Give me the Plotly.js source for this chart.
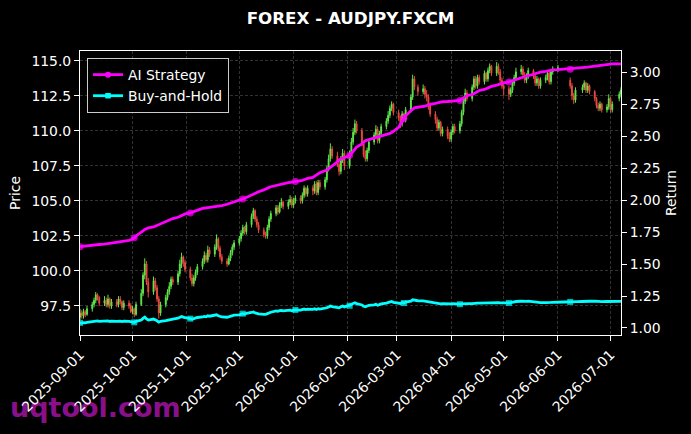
<!DOCTYPE html>
<html><head><meta charset="utf-8">
<script src="https://cdn.plot.ly/plotly-3.0.1.min.js"></script>
<style>
html,body{margin:0;padding:0;background:#000;width:691px;height:434px;overflow:hidden}
#wm{position:absolute;left:10px;top:394px;font-family:'DejaVu Sans';font-weight:bold;font-size:27px;line-height:27px;color:#8a108a;z-index:0;white-space:nowrap}
#chart{position:absolute;left:0;top:0;width:691px;height:434px;z-index:1}
</style></head><body>
<div id="wm">uqtool.com</div>
<div id="chart"></div>
<script>
// ---- data ----
const firstDay = '2025-09-01';
const tradingDayCount = 222;
const monthTicks = ['2025-09-01','2025-10-01','2025-11-01','2025-12-01','2026-01-01','2026-02-01','2026-03-01','2026-04-01','2026-05-01','2026-06-01','2026-07-01'];
const priceTicks = [97.5,100,102.5,105,107.5,110,112.5,115];
const returnTicks = [1.0,1.25,1.5,1.75,2.0,2.25,2.5,2.75,3.0];
const markerDates = ['2025-09-01','2025-10-02','2025-11-03','2025-12-03','2026-01-02','2026-02-02','2026-03-05','2026-04-06','2026-05-04','2026-06-08'];

const openP = [
96.7,97.0,96.8,97.1,96.9, 97.3,97.6,97.9,98.3,98.1, 97.7,97.9,97.6,98.0,97.5, 97.8,97.6,98.0,97.8,97.4,
97.7,97.5,97.1,97.3,96.9, 97.6,98.4,99.7,100.5,99.2, 98.5,99.3,98.8,98.0,97.0, 97.6,98.1,98.5,98.9,99.4,
99.2,99.8,100.5,101.0,100.6, 100.1,99.5,99.1,99.5,99.9, 100.3,100.7,101.1,100.8,101.5, 101.2,101.7,102.3,101.6,101.0,
100.7,100.5,100.9,101.3,101.7, 102.0,102.3,102.7,103.1,102.8, 103.3,103.9,104.3,103.7,103.3, 102.9,102.6,102.5,103.1,103.7,
104.1,104.5,104.2,104.7,104.9, 104.6,104.9,105.1,104.7,105.0, 105.2,105.0,105.4,105.9,105.5, 105.9,105.7,106.2,105.6,106.3,
106.0,106.5,107.3,108.0,108.7, 108.2,107.6,107.1,107.9,108.4, 107.5,108.4,109.2,109.9,110.5, 110.0,109.1,108.3,108.0,108.6,
109.2,109.7,110.1,109.3,109.8, 110.3,110.7,111.1,111.6,111.9, 111.3,110.9,110.5,111.2,110.8, 111.5,112.4,113.7,null,113.1,
112.8,113.0,112.6,112.4,111.8, 111.2,110.8,110.2,110.6,109.8, 110.1,109.6,109.4,109.9,110.3, 110.0,110.5,111.3,112.1,112.7,
112.3,113.1,113.7,113.2,113.8, 113.5,114.1,113.7,114.3,114.6, 114.1,114.6,114.2,113.6,113.2, 113.0,112.6,112.9,113.4,113.8,
114.2,114.4,114.0,113.6,113.9, 114.3,113.9,113.4,113.7,113.2, 113.6,113.8,114.1,113.5,114.2, 114.4,null,null,null,null,
113.6,113.2,112.5,112.2,null, 112.9,113.1,113.4,112.9,113.2, 112.8,112.3,111.8,111.6,111.9, 111.5,111.7,112.3,111.5,null,
112.3,112.6];
const highP = [
97.3,97.2,97.3,97.2,97.5, 97.8,98.1,98.5,98.4,98.2, 98.2,98.1,98.3,98.1,98.0, 98.0,98.2,98.2,97.9,97.9,
97.9,97.7,97.5,97.4,97.8, 98.7,99.9,100.9,100.7,99.5, 99.6,99.5,99.0,98.2,97.8, 98.3,98.7,99.2,99.6,99.6,
100.0,100.8,101.3,101.1,100.8, 100.3,99.8,99.7,100.1,100.5, 100.9,101.4,101.3,101.8,101.7, 101.9,102.6,102.4,101.8,101.2,
100.9,101.1,101.5,101.9,102.2, 102.5,102.9,103.3,103.2,103.5, 104.1,104.5,104.4,103.9,103.5, 103.1,102.8,103.3,103.9,104.3,
104.7,104.7,104.9,105.2,105.0, 105.1,105.4,105.3,105.2,105.4, 105.4,105.6,106.1,106.0,106.1, 106.1,106.4,106.4,106.5,106.5,
106.7,107.5,108.3,109.1,108.9, 108.5,107.9,108.2,108.7,108.6, 108.6,109.5,110.2,110.8,110.7, 110.2,109.3,108.6,108.8,109.4,
109.9,110.4,110.3,110.0,110.5, 110.9,111.4,111.8,112.1,112.0, 111.5,111.1,111.4,111.3,111.7, 112.6,114.0,113.9,null,113.3,
113.3,113.2,112.9,112.6,112.0, 111.4,111.0,110.8,110.7,110.3, 110.3,109.9,110.1,110.5,110.5, 110.7,111.5,112.4,113.0,112.9,
113.3,113.9,113.9,114.0,114.0, 114.3,114.2,114.5,114.8,114.7, 114.9,114.8,114.4,113.8,113.4, 113.2,113.1,113.6,114.0,114.5,
114.7,114.6,114.2,114.1,114.5, 114.4,114.1,113.9,113.8,113.8, 114.0,114.3,114.2,114.4,114.6, 114.7,null,null,null,null,
113.8,113.4,112.7,113.1,null, 113.3,113.6,113.5,113.4,113.3, 112.9,112.4,112.0,112.1,112.0, 111.9,112.6,112.4,112.1,null,
112.8,113.1];
const lowP = [
96.5,96.6,96.6,96.7,96.8, 97.1,97.4,97.7,97.9,97.5, 97.5,97.4,97.4,97.3,97.3, 97.4,97.4,97.6,97.2,97.2,
97.3,97.0,96.9,96.7,96.8, 97.5,98.2,99.4,99.0,98.1, 98.3,98.6,97.8,96.6,96.8, 97.4,97.9,98.3,98.7,99.0,
99.0,99.6,100.2,100.3,99.9, 99.3,98.9,98.9,99.3,99.7, 100.1,100.5,100.6,100.6,101.0, 101.0,101.5,101.4,100.8,100.5,
100.3,100.4,100.7,101.1,101.5, 101.8,102.1,102.5,102.6,102.6, 103.1,103.7,103.5,103.1,102.7, 102.4,102.3,102.3,102.9,103.5,
103.9,104.0,104.1,104.5,104.4, 104.4,104.7,104.5,104.5,104.8, 104.8,104.8,105.2,105.3,105.3, 105.4,105.5,105.4,105.4,105.8,
105.8,106.3,107.1,107.8,108.0, 107.4,106.8,106.9,107.7,107.2, 107.3,108.2,109.0,109.7,109.8, 108.9,108.1,107.8,107.8,108.4,
109.0,109.5,109.1,109.1,109.6, 110.1,110.5,110.9,111.4,111.1, 110.7,110.2,110.3,110.6,110.6, 111.3,112.2,112.9,null,112.5,
112.6,112.3,112.1,111.5,111.0, 110.5,110.0,110.0,109.6,109.6, 109.4,109.2,109.2,109.7,109.8, 109.8,110.3,111.1,111.9,112.1,
112.1,112.9,113.0,113.0,113.3, 113.3,113.5,113.5,114.1,113.9, 113.9,114.0,113.4,113.0,112.5, 112.2,112.4,112.7,113.2,113.6,
114.0,113.8,113.4,113.4,113.7, 113.7,113.2,113.2,113.0,113.0, 113.4,113.6,113.3,113.3,114.0, 114.2,null,null,null,null,
113.0,112.2,111.9,112.0,null, 112.7,112.9,112.7,112.7,112.6, 112.1,111.6,111.4,111.4,111.3, 111.3,111.5,111.3,111.3,null,
112.1,112.4];
const closeP = [
97.0,96.8,97.1,96.9,97.3, 97.6,97.9,98.3,98.1,97.7, 97.9,97.6,98.0,97.5,97.8, 97.6,98.0,97.8,97.4,97.7,
97.5,97.1,97.3,96.9,97.6, 98.4,99.7,100.5,99.2,98.5, 99.3,98.8,98.0,97.0,97.6, 98.1,98.5,98.9,99.4,99.2,
99.8,100.5,101.0,100.6,100.1, 99.5,99.1,99.5,99.9,100.3, 100.7,101.1,100.8,101.5,101.2, 101.7,102.3,101.6,101.0,100.7,
100.5,100.9,101.3,101.7,102.0, 102.3,102.7,103.1,102.8,103.3, 103.9,104.3,103.7,103.3,102.9, 102.6,102.5,103.1,103.7,104.1,
104.5,104.2,104.7,104.9,104.6, 104.9,105.1,104.7,105.0,105.2, 105.0,105.4,105.9,105.5,105.9, 105.7,106.2,105.6,106.3,106.0,
106.5,107.3,108.0,108.7,108.2, 107.6,107.1,107.9,108.4,107.5, 108.4,109.2,109.9,110.5,110.0, 109.1,108.3,108.0,108.6,109.2,
109.7,110.1,109.3,109.8,110.3, 110.7,111.1,111.6,111.9,111.3, 110.9,110.5,111.2,110.8,111.5, 112.4,113.7,113.1,null,112.8,
113.0,112.6,112.4,111.8,111.2, 110.8,110.2,110.6,109.8,110.1, 109.6,109.4,109.9,110.3,110.0, 110.5,111.3,112.1,112.7,112.3,
113.1,113.7,113.2,113.8,113.5, 114.1,113.7,114.3,114.6,114.1, 114.6,114.2,113.6,113.2,113.0, 112.6,112.9,113.4,113.8,114.2,
114.4,114.0,113.6,113.9,114.3, 113.9,113.4,113.7,113.2,113.6, 113.8,114.1,113.5,114.2,114.4, 114.5,null,null,null,null,
113.2,112.5,112.2,112.9,null, 113.1,113.4,112.9,113.2,112.8, 112.3,111.8,111.6,111.9,111.5, 111.7,112.3,111.5,111.9,null,
112.6,112.9];
const aiReturn = [
1.636,1.638,1.640,1.641,1.643, 1.647,1.649,1.650,1.652,1.653, 1.656,1.658,1.659,1.661,1.663, 1.667,1.668,1.670,1.672,1.675,
1.685,1.690,1.695,1.705,1.720, 1.745,1.760,1.770,1.778,1.783, 1.790,1.796,1.802,1.808,1.815, 1.832,1.838,1.845,1.850,1.856,
1.866,1.872,1.878,1.885,1.892, 1.900,1.905,1.912,1.918,1.925, 1.935,1.938,1.940,1.943,1.945, 1.948,1.950,1.953,1.955,1.958,
1.968,1.972,1.978,1.982,1.987, 2.000,2.005,2.010,2.015,2.022, 2.040,2.048,2.055,2.060,2.066, 2.080,2.088,2.095,2.100,2.105,
2.115,2.120,2.124,2.128,2.132, 2.137,2.139,2.141,2.143,2.145, 2.150,2.155,2.160,2.165,2.170, 2.178,2.185,2.195,2.205,2.215,
2.228,2.236,2.245,2.255,2.265, 2.300,2.315,2.325,2.330,2.332, 2.350,2.365,2.385,2.400,2.415, 2.440,2.455,2.465,2.470,2.474,
2.484,2.487,2.490,2.493,2.497, 2.510,2.516,2.522,2.530,2.538, 2.570,2.590,2.615,2.640,2.660, 2.700,2.715,2.722,2.725,2.727,
2.730,2.735,2.740,2.745,2.750, 2.758,2.762,2.765,2.768,2.770, 2.772,2.773,2.774,2.775,2.776, 2.780,2.790,2.800,2.810,2.818,
2.825,2.835,2.845,2.852,2.858, 2.866,2.872,2.878,2.884,2.890, 2.900,2.905,2.910,2.914,2.918, 2.925,2.930,2.935,2.940,2.944,
2.955,2.960,2.965,2.970,2.975, 2.985,2.990,2.995,2.998,3.002, 3.008,3.012,3.015,3.018,3.020, 3.022,3.023,3.023,3.024,3.024,
3.025,3.027,3.029,3.030,3.032, 3.035,3.037,3.039,3.040,3.042, 3.048,3.052,3.055,3.058,3.060, 3.064,3.065,3.065,3.066,3.066,
3.066,3.066];
const buyHold = [
1.040,1.038,1.042,1.040,1.044, 1.050,1.053,1.058,1.056,1.052, 1.055,1.052,1.056,1.051,1.054, 1.052,1.056,1.054,1.050,1.053,
1.051,1.047,1.049,1.044,1.052, 1.062,1.075,1.085,1.070,1.062, 1.070,1.065,1.056,1.046,1.052, 1.058,1.062,1.066,1.072,1.070,
1.076,1.083,1.089,1.085,1.080, 1.073,1.069,1.073,1.077,1.082, 1.086,1.090,1.087,1.095,1.092, 1.097,1.103,1.096,1.089,1.086,
1.084,1.088,1.093,1.097,1.100, 1.103,1.108,1.112,1.109,1.114, 1.121,1.125,1.118,1.114,1.110, 1.107,1.106,1.112,1.118,1.123,
1.133,1.130,1.135,1.138,1.134, 1.137,1.140,1.135,1.139,1.141, 1.139,1.143,1.148,1.144,1.148, 1.146,1.150,1.145,1.151,1.148,
1.152,1.158,1.165,1.172,1.167, 1.163,1.158,1.166,1.171,1.165, 1.174,1.183,1.192,1.197,1.191, 1.180,1.170,1.166,1.172,1.177,
1.181,1.185,1.178,1.184,1.188, 1.194,1.199,1.204,1.207,1.201, 1.196,1.192,1.199,1.195,1.203, 1.210,1.220,1.216,1.215,1.213,
1.212,1.210,1.208,1.203,1.198, 1.195,1.191,1.193,1.188,1.190, 1.187,1.185,1.188,1.190,1.188, 1.186,1.188,1.190,1.192,1.190,
1.191,1.194,1.192,1.195,1.194, 1.196,1.194,1.197,1.199,1.197, 1.200,1.198,1.196,1.195,1.194, 1.196,1.199,1.203,1.205,1.207,
1.209,1.208,1.206,1.208,1.210, 1.205,1.200,1.199,1.196,1.198, 1.199,1.201,1.198,1.200,1.201, 1.200,1.201,1.202,1.202,1.203,
1.204,1.203,1.202,1.205,1.206, 1.207,1.209,1.208,1.210,1.209, 1.210,1.208,1.206,1.207,1.206, 1.207,1.208,1.206,1.207,1.207,
1.208,1.208];

// ---- trading-day dates (weekdays from firstDay) ----
function weekdays(start, n){
  const out=[]; const d=new Date(start+'T00:00:00Z');
  while(out.length<n){ const w=d.getUTCDay(); if(w!==0&&w!==6) out.push(d.toISOString().slice(0,10)); d.setUTCDate(d.getUTCDate()+1); }
  return out;
}
const dates = weekdays(firstDay, tradingDayCount);
const markerSize = (s) => dates.map(d => markerDates.includes(d) ? s : 0);

const MAG = '#ff00ff', CYA = '#00ffff';
const FS = 13.9;
const traces = [
  {type:'candlestick', x:dates, open:openP, high:highP, low:lowP, close:closeP, xaxis:'x', yaxis:'y',
   increasing:{line:{color:'#5fe84a', width:1}, fillcolor:'#5fe84a'},
   decreasing:{line:{color:'#ec4a40', width:1}, fillcolor:'#ec4a40'},
   whiskerwidth:0, showlegend:false, hoverinfo:'skip'},
  {type:'scatter', mode:'lines+markers', x:dates, y:buyHold, yaxis:'y2', showlegend:false,
   line:{color:CYA, width:2.8}, marker:{symbol:'square', size:markerSize(6), color:CYA, line:{width:0}}},
  {type:'scatter', mode:'lines+markers', x:dates, y:aiReturn, yaxis:'y2', showlegend:false,
   line:{color:MAG, width:2.8}, marker:{symbol:'circle', size:markerSize(7), color:MAG, line:{width:0}}},
  {type:'scatter', mode:'lines+markers', x:[null], y:[null], yaxis:'y2', name:'AI Strategy',
   line:{color:MAG, width:2.8}, marker:{symbol:'circle', size:6, color:MAG, line:{width:0}}},
  {type:'scatter', mode:'lines+markers', x:[null], y:[null], yaxis:'y2', name:'Buy-and-Hold',
   line:{color:CYA, width:2.8}, marker:{symbol:'square', size:5.5, color:CYA, line:{width:0}}}
];

const axisCommon = {ticks:'outside', ticklen:5, tickwidth:1, tickcolor:'#fff', showline:true, linecolor:'#fff', linewidth:1,
  zeroline:false, tickfont:{size:FS, color:'#fff'}};
const gridStyle = {showgrid:true, gridcolor:'rgba(255,255,255,0.28)', gridwidth:0.7, griddash:'3px,2px'};

const layout = {
  width:691, height:434,
  paper_bgcolor:'rgba(0,0,0,0)', plot_bgcolor:'#000',
  margin:{l:80, r:70, t:51, b:99, pad:0},
  font:{family:'DejaVu Sans', color:'#fff', size:FS},
  title:{text:'<b>FOREX - AUDJPY.FXCM</b>', font:{family:'DejaVu Sans', size:16.7, color:'#fff'},
         x:0.5, xref:'paper', xanchor:'center', y:1-18/434, yref:'container', yanchor:'middle'},
  showlegend:true,
  legend:{x:0.013, y:0.975, xanchor:'left', yanchor:'top', bgcolor:'rgba(0,0,0,0.85)', bordercolor:'#cccccc',
          borderwidth:1, font:{size:FS, color:'#fff'}, traceorder:'normal', tracegroupgap:0},
  xaxis:Object.assign({}, axisCommon, gridStyle, {type:'date', range:[firstDay,'2026-07-07'], tickvals:monthTicks, ticktext:monthTicks,
          tickangle:-45, mirror:true, rangeslider:{visible:false}}),
  yaxis:Object.assign({}, axisCommon, gridStyle, {range:[95.43,115.69], tickvals:priceTicks, tickformat:'.1f', mirror:false,
          title:{text:'Price', font:{size:FS, color:'#fff'}, standoff:7}}),
  yaxis2:Object.assign({}, axisCommon, {overlaying:'y', side:'right', range:[0.945,3.167], tickvals:returnTicks, tickformat:'.2f',
          showgrid:false, title:{text:'Return', font:{size:FS, color:'#fff'}, standoff:6}})
};

Plotly.newPlot('chart', traces, layout, {displayModeBar:false, staticPlot:true});
</script>
</body></html>
